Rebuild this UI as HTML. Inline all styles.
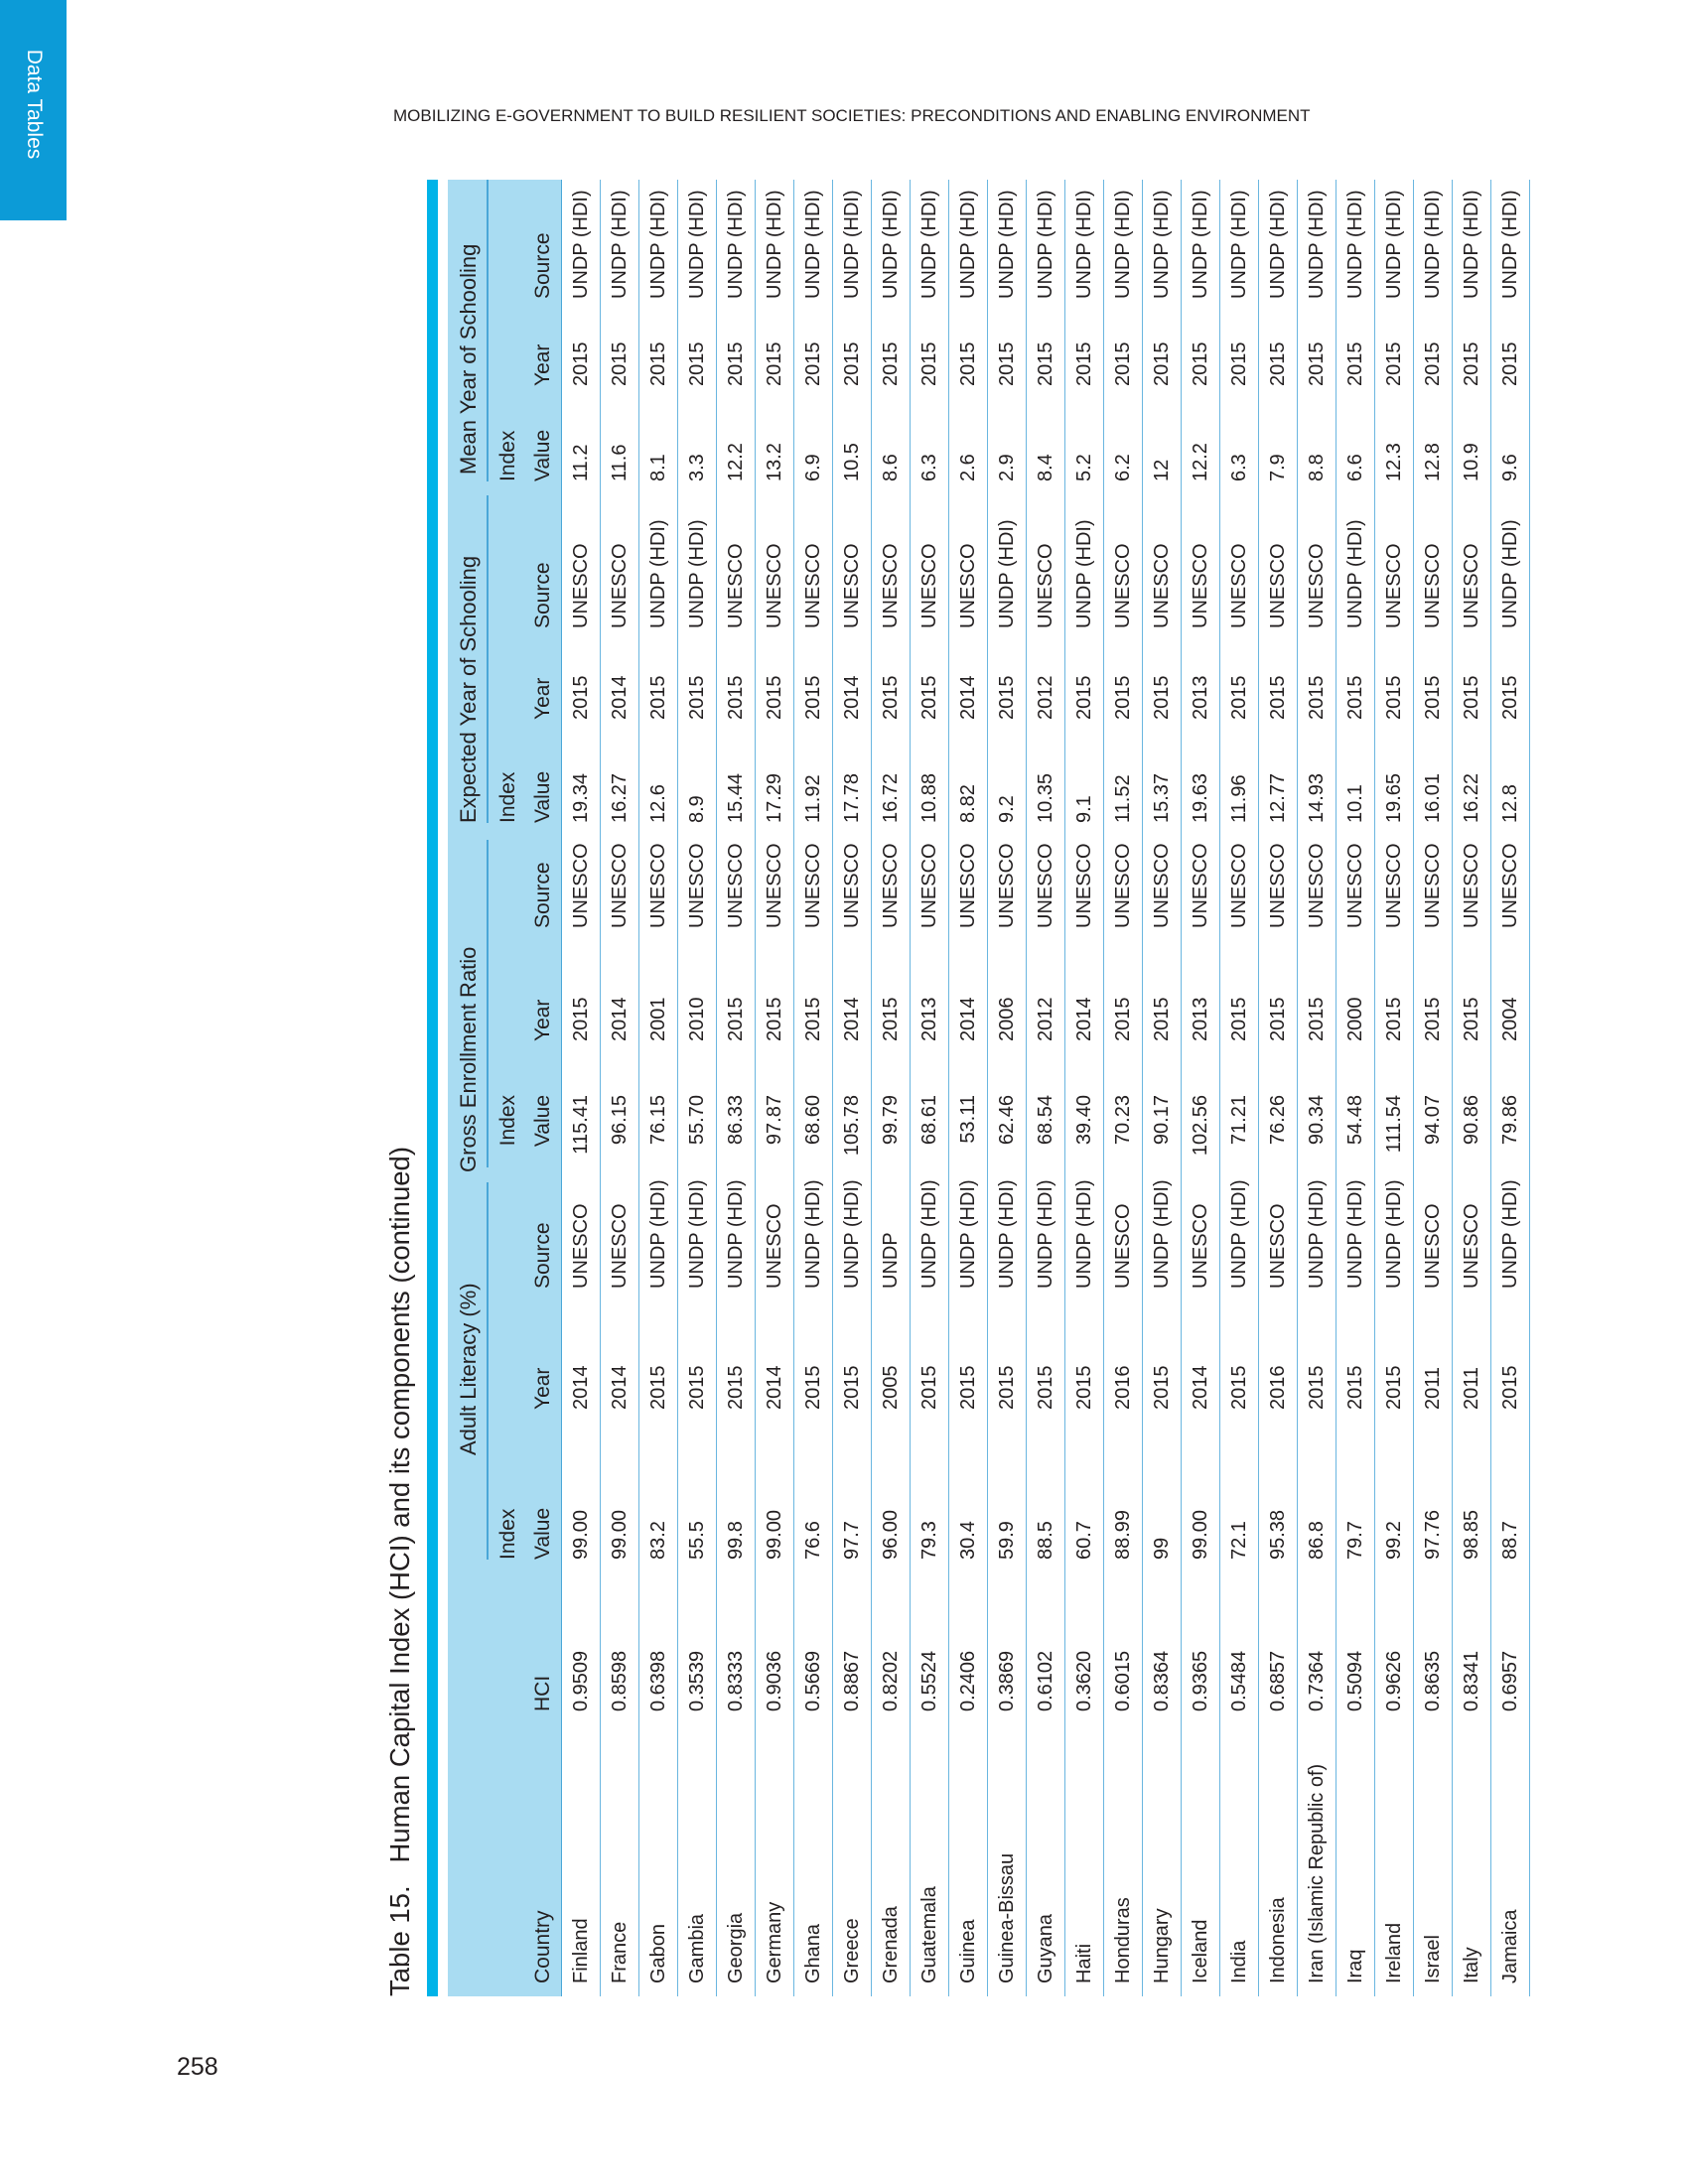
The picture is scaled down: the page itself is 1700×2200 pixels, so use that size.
<!DOCTYPE html>
<html><head><meta charset="utf-8"><style>
body{margin:0;width:1700px;height:2200px;position:relative;background:#fff;font-family:"Liberation Sans",sans-serif;color:#231f20;overflow:hidden}
.tab{position:absolute;left:0;top:0;width:67px;height:222px;background:#0c9bd7}
.tab span{position:absolute;left:34px;top:105px;transform:translate(-50%,-50%) rotate(90deg);color:#fff;font-size:21px;white-space:nowrap}
.hdr{position:absolute;left:396px;top:107px;font-size:17px;color:#231f20;white-space:nowrap}
.pg{position:absolute;left:178px;top:2070px;font-size:25px;line-height:25px}
.title{position:absolute;left:386px;top:2011px;transform-origin:0 0;transform:rotate(-90deg);font-size:27.5px;white-space:nowrap;line-height:34px}
.t{position:absolute;left:430px;top:2011px;width:1830px;height:1111px;transform-origin:0 0;transform:rotate(-90deg)}
.cy{position:absolute;left:0;top:0;width:1830px;height:11px;background:#00b3e8}
.hb{position:absolute;left:0;top:21px;width:1830px;height:115px;background:#a9dcf2;border-bottom:1.5px solid #4aa7d8;box-sizing:border-box}
.t span{position:absolute;white-space:nowrap}
.g{top:29px;font-size:22px;line-height:26px}
.ix{top:70px;font-size:21px;line-height:24px}
.lb{top:105px;font-size:21px;line-height:24px}
.ul{position:absolute;top:60px;height:1.5px;background:#4aa7d8}
.r{position:absolute;left:0;width:1830px;height:39px;border-bottom:1.5px solid #6ab6e0;font-size:20px;line-height:39px;box-sizing:border-box}
.a{left:13px}.b{left:287px}.c{left:440px}.d{left:591px}.e{left:713px}.f{left:908px;transform:translateX(-100%)}.h{left:962px}.i{left:1076px}.j{left:1182px}.k{left:1286px}.l{left:1378px}.m{left:1526px}.n{left:1622px}.o{left:1710px}
</style></head><body>
<div class="tab"><span>Data Tables</span></div>
<div class="hdr">MOBILIZING E-GOVERNMENT TO BUILD RESILIENT SOCIETIES: PRECONDITIONS AND ENABLING ENVIRONMENT</div>
<div class="pg">258</div>
<div class="title">Table 15.&nbsp;&nbsp;&nbsp;Human Capital Index (HCI) and its components (continued)</div>
<div class="t">
<div class="cy"></div>
<div class="hb"></div>
<div class="ul" style="left:440px;width:380px"></div>
<div class="ul" style="left:835px;width:330px"></div>
<div class="ul" style="left:1182px;width:330px"></div>
<div class="ul" style="left:1526px;width:304px"></div>
<span class="g" style="left:545px">Adult Literacy (%)</span>
<span class="g" style="left:830px">Gross Enrollment Ratio</span>
<span class="g" style="left:1182px">Expected Year of Schooling</span>
<span class="g" style="left:1533px">Mean Year of Schooling</span>
<span class="ix c">Index</span><span class="ix f">Index</span><span class="ix j">Index</span><span class="ix m">Index</span>
<span class="lb a">Country</span><span class="lb b">HCI</span>
<span class="lb c">Value</span><span class="lb d">Year</span><span class="lb e">Source</span>
<span class="lb f">Value</span><span class="lb h">Year</span><span class="lb i">Source</span>
<span class="lb j">Value</span><span class="lb k">Year</span><span class="lb l">Source</span>
<span class="lb m">Value</span><span class="lb n">Year</span><span class="lb o">Source</span>
<div class="r" style="top:136px"><span class="a">Finland</span><span class="b">0.9509</span><span class="c">99.00</span><span class="d">2014</span><span class="e">UNESCO</span><span class="f">115.41</span><span class="h">2015</span><span class="i">UNESCO</span><span class="j">19.34</span><span class="k">2015</span><span class="l">UNESCO</span><span class="m">11.2</span><span class="n">2015</span><span class="o">UNDP (HDI)</span></div>
<div class="r" style="top:175px"><span class="a">France</span><span class="b">0.8598</span><span class="c">99.00</span><span class="d">2014</span><span class="e">UNESCO</span><span class="f">96.15</span><span class="h">2014</span><span class="i">UNESCO</span><span class="j">16.27</span><span class="k">2014</span><span class="l">UNESCO</span><span class="m">11.6</span><span class="n">2015</span><span class="o">UNDP (HDI)</span></div>
<div class="r" style="top:214px"><span class="a">Gabon</span><span class="b">0.6398</span><span class="c">83.2</span><span class="d">2015</span><span class="e">UNDP (HDI)</span><span class="f">76.15</span><span class="h">2001</span><span class="i">UNESCO</span><span class="j">12.6</span><span class="k">2015</span><span class="l">UNDP (HDI)</span><span class="m">8.1</span><span class="n">2015</span><span class="o">UNDP (HDI)</span></div>
<div class="r" style="top:253px"><span class="a">Gambia</span><span class="b">0.3539</span><span class="c">55.5</span><span class="d">2015</span><span class="e">UNDP (HDI)</span><span class="f">55.70</span><span class="h">2010</span><span class="i">UNESCO</span><span class="j">8.9</span><span class="k">2015</span><span class="l">UNDP (HDI)</span><span class="m">3.3</span><span class="n">2015</span><span class="o">UNDP (HDI)</span></div>
<div class="r" style="top:292px"><span class="a">Georgia</span><span class="b">0.8333</span><span class="c">99.8</span><span class="d">2015</span><span class="e">UNDP (HDI)</span><span class="f">86.33</span><span class="h">2015</span><span class="i">UNESCO</span><span class="j">15.44</span><span class="k">2015</span><span class="l">UNESCO</span><span class="m">12.2</span><span class="n">2015</span><span class="o">UNDP (HDI)</span></div>
<div class="r" style="top:331px"><span class="a">Germany</span><span class="b">0.9036</span><span class="c">99.00</span><span class="d">2014</span><span class="e">UNESCO</span><span class="f">97.87</span><span class="h">2015</span><span class="i">UNESCO</span><span class="j">17.29</span><span class="k">2015</span><span class="l">UNESCO</span><span class="m">13.2</span><span class="n">2015</span><span class="o">UNDP (HDI)</span></div>
<div class="r" style="top:370px"><span class="a">Ghana</span><span class="b">0.5669</span><span class="c">76.6</span><span class="d">2015</span><span class="e">UNDP (HDI)</span><span class="f">68.60</span><span class="h">2015</span><span class="i">UNESCO</span><span class="j">11.92</span><span class="k">2015</span><span class="l">UNESCO</span><span class="m">6.9</span><span class="n">2015</span><span class="o">UNDP (HDI)</span></div>
<div class="r" style="top:409px"><span class="a">Greece</span><span class="b">0.8867</span><span class="c">97.7</span><span class="d">2015</span><span class="e">UNDP (HDI)</span><span class="f">105.78</span><span class="h">2014</span><span class="i">UNESCO</span><span class="j">17.78</span><span class="k">2014</span><span class="l">UNESCO</span><span class="m">10.5</span><span class="n">2015</span><span class="o">UNDP (HDI)</span></div>
<div class="r" style="top:448px"><span class="a">Grenada</span><span class="b">0.8202</span><span class="c">96.00</span><span class="d">2005</span><span class="e">UNDP</span><span class="f">99.79</span><span class="h">2015</span><span class="i">UNESCO</span><span class="j">16.72</span><span class="k">2015</span><span class="l">UNESCO</span><span class="m">8.6</span><span class="n">2015</span><span class="o">UNDP (HDI)</span></div>
<div class="r" style="top:487px"><span class="a">Guatemala</span><span class="b">0.5524</span><span class="c">79.3</span><span class="d">2015</span><span class="e">UNDP (HDI)</span><span class="f">68.61</span><span class="h">2013</span><span class="i">UNESCO</span><span class="j">10.88</span><span class="k">2015</span><span class="l">UNESCO</span><span class="m">6.3</span><span class="n">2015</span><span class="o">UNDP (HDI)</span></div>
<div class="r" style="top:526px"><span class="a">Guinea</span><span class="b">0.2406</span><span class="c">30.4</span><span class="d">2015</span><span class="e">UNDP (HDI)</span><span class="f">53.11</span><span class="h">2014</span><span class="i">UNESCO</span><span class="j">8.82</span><span class="k">2014</span><span class="l">UNESCO</span><span class="m">2.6</span><span class="n">2015</span><span class="o">UNDP (HDI)</span></div>
<div class="r" style="top:565px"><span class="a">Guinea-Bissau</span><span class="b">0.3869</span><span class="c">59.9</span><span class="d">2015</span><span class="e">UNDP (HDI)</span><span class="f">62.46</span><span class="h">2006</span><span class="i">UNESCO</span><span class="j">9.2</span><span class="k">2015</span><span class="l">UNDP (HDI)</span><span class="m">2.9</span><span class="n">2015</span><span class="o">UNDP (HDI)</span></div>
<div class="r" style="top:604px"><span class="a">Guyana</span><span class="b">0.6102</span><span class="c">88.5</span><span class="d">2015</span><span class="e">UNDP (HDI)</span><span class="f">68.54</span><span class="h">2012</span><span class="i">UNESCO</span><span class="j">10.35</span><span class="k">2012</span><span class="l">UNESCO</span><span class="m">8.4</span><span class="n">2015</span><span class="o">UNDP (HDI)</span></div>
<div class="r" style="top:643px"><span class="a">Haiti</span><span class="b">0.3620</span><span class="c">60.7</span><span class="d">2015</span><span class="e">UNDP (HDI)</span><span class="f">39.40</span><span class="h">2014</span><span class="i">UNESCO</span><span class="j">9.1</span><span class="k">2015</span><span class="l">UNDP (HDI)</span><span class="m">5.2</span><span class="n">2015</span><span class="o">UNDP (HDI)</span></div>
<div class="r" style="top:682px"><span class="a">Honduras</span><span class="b">0.6015</span><span class="c">88.99</span><span class="d">2016</span><span class="e">UNESCO</span><span class="f">70.23</span><span class="h">2015</span><span class="i">UNESCO</span><span class="j">11.52</span><span class="k">2015</span><span class="l">UNESCO</span><span class="m">6.2</span><span class="n">2015</span><span class="o">UNDP (HDI)</span></div>
<div class="r" style="top:721px"><span class="a">Hungary</span><span class="b">0.8364</span><span class="c">99</span><span class="d">2015</span><span class="e">UNDP (HDI)</span><span class="f">90.17</span><span class="h">2015</span><span class="i">UNESCO</span><span class="j">15.37</span><span class="k">2015</span><span class="l">UNESCO</span><span class="m">12</span><span class="n">2015</span><span class="o">UNDP (HDI)</span></div>
<div class="r" style="top:760px"><span class="a">Iceland</span><span class="b">0.9365</span><span class="c">99.00</span><span class="d">2014</span><span class="e">UNESCO</span><span class="f">102.56</span><span class="h">2013</span><span class="i">UNESCO</span><span class="j">19.63</span><span class="k">2013</span><span class="l">UNESCO</span><span class="m">12.2</span><span class="n">2015</span><span class="o">UNDP (HDI)</span></div>
<div class="r" style="top:799px"><span class="a">India</span><span class="b">0.5484</span><span class="c">72.1</span><span class="d">2015</span><span class="e">UNDP (HDI)</span><span class="f">71.21</span><span class="h">2015</span><span class="i">UNESCO</span><span class="j">11.96</span><span class="k">2015</span><span class="l">UNESCO</span><span class="m">6.3</span><span class="n">2015</span><span class="o">UNDP (HDI)</span></div>
<div class="r" style="top:838px"><span class="a">Indonesia</span><span class="b">0.6857</span><span class="c">95.38</span><span class="d">2016</span><span class="e">UNESCO</span><span class="f">76.26</span><span class="h">2015</span><span class="i">UNESCO</span><span class="j">12.77</span><span class="k">2015</span><span class="l">UNESCO</span><span class="m">7.9</span><span class="n">2015</span><span class="o">UNDP (HDI)</span></div>
<div class="r" style="top:877px"><span class="a">Iran (Islamic Republic of)</span><span class="b">0.7364</span><span class="c">86.8</span><span class="d">2015</span><span class="e">UNDP (HDI)</span><span class="f">90.34</span><span class="h">2015</span><span class="i">UNESCO</span><span class="j">14.93</span><span class="k">2015</span><span class="l">UNESCO</span><span class="m">8.8</span><span class="n">2015</span><span class="o">UNDP (HDI)</span></div>
<div class="r" style="top:916px"><span class="a">Iraq</span><span class="b">0.5094</span><span class="c">79.7</span><span class="d">2015</span><span class="e">UNDP (HDI)</span><span class="f">54.48</span><span class="h">2000</span><span class="i">UNESCO</span><span class="j">10.1</span><span class="k">2015</span><span class="l">UNDP (HDI)</span><span class="m">6.6</span><span class="n">2015</span><span class="o">UNDP (HDI)</span></div>
<div class="r" style="top:955px"><span class="a">Ireland</span><span class="b">0.9626</span><span class="c">99.2</span><span class="d">2015</span><span class="e">UNDP (HDI)</span><span class="f">111.54</span><span class="h">2015</span><span class="i">UNESCO</span><span class="j">19.65</span><span class="k">2015</span><span class="l">UNESCO</span><span class="m">12.3</span><span class="n">2015</span><span class="o">UNDP (HDI)</span></div>
<div class="r" style="top:994px"><span class="a">Israel</span><span class="b">0.8635</span><span class="c">97.76</span><span class="d">2011</span><span class="e">UNESCO</span><span class="f">94.07</span><span class="h">2015</span><span class="i">UNESCO</span><span class="j">16.01</span><span class="k">2015</span><span class="l">UNESCO</span><span class="m">12.8</span><span class="n">2015</span><span class="o">UNDP (HDI)</span></div>
<div class="r" style="top:1033px"><span class="a">Italy</span><span class="b">0.8341</span><span class="c">98.85</span><span class="d">2011</span><span class="e">UNESCO</span><span class="f">90.86</span><span class="h">2015</span><span class="i">UNESCO</span><span class="j">16.22</span><span class="k">2015</span><span class="l">UNESCO</span><span class="m">10.9</span><span class="n">2015</span><span class="o">UNDP (HDI)</span></div>
<div class="r" style="top:1072px"><span class="a">Jamaica</span><span class="b">0.6957</span><span class="c">88.7</span><span class="d">2015</span><span class="e">UNDP (HDI)</span><span class="f">79.86</span><span class="h">2004</span><span class="i">UNESCO</span><span class="j">12.8</span><span class="k">2015</span><span class="l">UNDP (HDI)</span><span class="m">9.6</span><span class="n">2015</span><span class="o">UNDP (HDI)</span></div>
</div>
</body></html>
